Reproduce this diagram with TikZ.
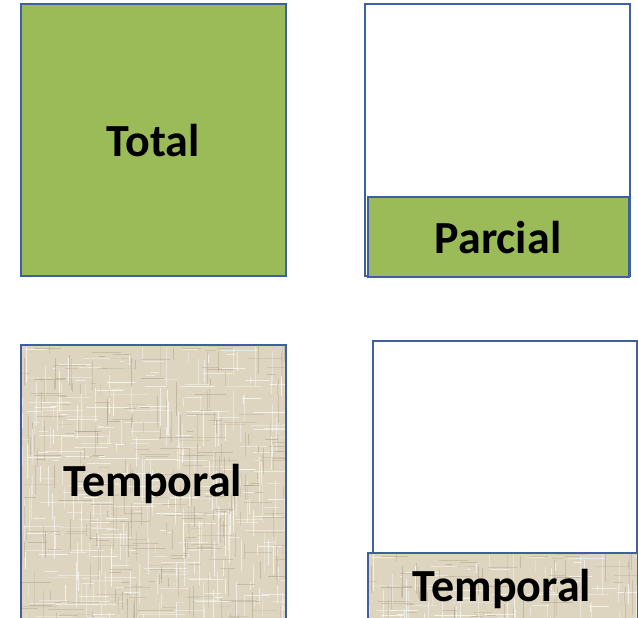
\documentclass[tikz,border=0pt]{standalone}
\usepackage{fontspec}
\setmainfont{Carlito}
\definecolor{bordercol}{RGB}{63,95,160}
\definecolor{olive}{RGB}{155,187,89}
\definecolor{linenbg}{RGB}{222,213,193}
\definecolor{linendark}{RGB}{160,145,118}
\newcommand\linentexture[1]{%
  \begin{scope}
  \clip (#1.north west) rectangle (#1.south east);
  \begin{scope}[shift={(#1.north west)}]
  \pgfmathsetseed{11}%
  \foreach \i in {1,...,260}{%
    \pgfmathsetmacro\xa{300*rnd}%
    \pgfmathsetmacro\ya{300*rnd}%
    \pgfmathsetmacro\ln{6+40*rnd}%
    \pgfmathsetmacro\op{0.25+0.45*rnd}%
    \draw[white, opacity=\op, line width=1pt] (\xa,\ya) -- ++(0,\ln);
    \pgfmathsetmacro\xb{300*rnd}%
    \pgfmathsetmacro\yb{300*rnd}%
    \pgfmathsetmacro\lb{6+40*rnd}%
    \draw[white, opacity=\op, line width=1pt] (\xb,\yb) -- ++(\lb,0);
  }%
  \foreach \i in {1,...,220}{%
    \pgfmathsetmacro\xa{300*rnd}%
    \pgfmathsetmacro\ya{300*rnd}%
    \pgfmathsetmacro\ln{6+30*rnd}%
    \pgfmathsetmacro\op{0.15+0.3*rnd}%
    \draw[linendark, opacity=\op, line width=0.9pt] (\xa,\ya) -- ++(0,\ln);
    \draw[linendark, opacity=\op, line width=0.9pt] (\ya,\xa) -- ++(\ln,0);
  }%
  \end{scope}
  \end{scope}
  \draw[bordercol, line width=1.6pt] (#1.north west) rectangle (#1.south east);
}
\tikzset{
  outline/.style={draw=bordercol, line width=1.6pt, inner sep=0pt, outer sep=0pt, anchor=north west},
  lbl/.style={font=\fontsize{46}{50}\selectfont\bfseries, text=black},
  greenbox/.style={outline, fill=olive},
  whitebox/.style={outline, fill=white},
  linen/.style={outline, fill=linenbg},
}
\begin{document}
\begin{tikzpicture}[x=1pt,y=-1pt]
  \useasboundingbox (0,0) rectangle (638,618);
  \clip (0,0) rectangle (638,618);
  % top left
  \node[greenbox, minimum width=265pt, minimum height=272pt] (total) at (21,4) {};
  \node[lbl] (totaltxt) at (153,141) {Total};
  % top right
  \node[whitebox, minimum width=265pt, minimum height=272pt] (parcout) at (365,4) {};
  \node[greenbox, minimum width=261pt, minimum height=80pt] (parcin) at (368,197) {};
  \node[lbl] (parctxt) at (498,238) {Parcial};
  % bottom left
  \node[linen, minimum width=265pt, minimum height=290pt] (temp) at (21,345) {};
  \linentexture{temp}
  \node[lbl] (temptxt) at (153,484) {Temporal};
  % bottom right
  \node[whitebox, minimum width=264pt, minimum height=212pt] (tempout) at (373,341) {};
  \node[linen, minimum width=270pt, minimum height=80pt] (tempin) at (368,553) {};
  \linentexture{tempin}
  \node[lbl] (tempintxt) at (502,589) {Temporal};
\end{tikzpicture}
\end{document}
